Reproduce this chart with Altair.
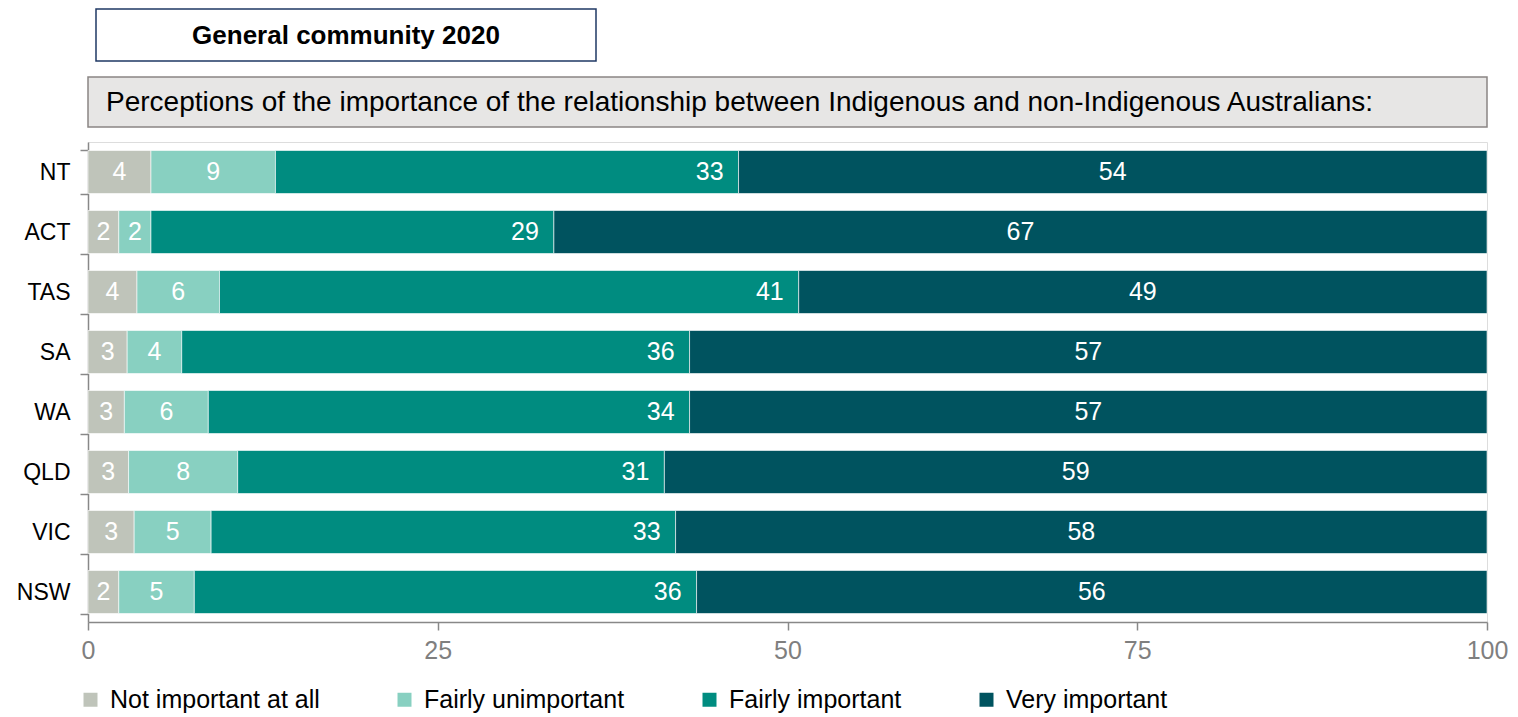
import altair as alt
import pandas as pd

states = ["NT", "ACT", "TAS", "SA", "WA", "QLD", "VIC", "NSW"]
categories = ["Not important at all", "Fairly unimportant", "Fairly important", "Very important"]
colors = ["#BFC4BA", "#88D0C1", "#008C80", "#00535F"]

not_important = [4.5, 2.2, 3.5, 2.8, 2.6, 2.9, 3.3, 2.2]
fairly_unimportant = [8.9, 2.3, 5.9, 3.9, 6.0, 7.8, 5.5, 5.4]
fairly_important = [33.1, 28.8, 41.4, 36.3, 34.4, 30.5, 33.2, 35.9]
very_important = [53.5, 66.7, 49.2, 57.0, 57.0, 58.8, 58.0, 56.5]

lbl_not = [4, 2, 4, 3, 3, 3, 3, 2]
lbl_funimp = [9, 2, 6, 4, 6, 8, 5, 5]
lbl_fimp = [33, 29, 41, 36, 34, 31, 33, 36]
lbl_very = [54, 67, 49, 57, 57, 59, 58, 56]

x_ticks = [0, 25, 50, 75, 100]

title_text = "General community 2020"
header_text = "Perceptions of the importance of the relationship between Indigenous and non-Indigenous Australians:"

series = [not_important, fairly_unimportant, fairly_important, very_important]
labels = [lbl_not, lbl_funimp, lbl_fimp, lbl_very]
rows = []
for i, s in enumerate(states):
    start = 0.0
    for k, cat in enumerate(categories):
        v = series[k][i]
        rows.append({"state": s, "cat": cat, "rank": k, "start": start,
                     "end": start + v, "mid": start + v / 2, "label": str(labels[k][i])})
        start += v
df = pd.DataFrame(rows)

W, H = 1399, 480
FONT = "Liberation Sans"

base = alt.Chart(df)
yenc = alt.Y("state:N", sort=states, title=None,
             scale=alt.Scale(paddingInner=0.283, paddingOuter=0.1415),
             axis=alt.Axis(labelFontSize=23, labelColor="#000000", labelPadding=10,
                           domainColor="#888888", domainWidth=1.5, tickColor="#888888",
                           tickWidth=1.5, tickSize=8, tickBand="extent", labelFont=FONT))

bars = base.mark_bar(stroke="#FFFFFF", strokeWidth=0.6).encode(
    x=alt.X("start:Q", scale=alt.Scale(domain=[0, 100], nice=False), title=None,
            axis=alt.Axis(values=x_ticks, labelFontSize=25, labelColor="#7F7F7F",
                          labelPadding=8, domainColor="#888888", domainWidth=1.5,
                          tickColor="#888888", tickWidth=1.5, tickSize=8, grid=False,
                          labelFlush=False, labelFont=FONT)),
    x2="end:Q",
    y=yenc,
    color=alt.Color("cat:N", scale=alt.Scale(domain=categories, range=colors),
                    legend=alt.Legend(title=None, orient="none", legendX=-10, legendY=545,
                                      direction="horizontal", symbolType="square",
                                      symbolSize=196, symbolStrokeWidth=0,
                                      labelFontSize=25, labelColor="#000000", labelFont=FONT,
                                      columnPadding=72, labelOffset=7, labelLimit=400)),
    order=alt.Order("rank:Q"),
)

text_center = base.transform_filter(alt.datum.cat != "Fairly important").mark_text(
    color="white", fontSize=25, font=FONT, baseline="middle", align="center").encode(
    x="mid:Q", y=alt.Y("state:N", sort=states), text="label:N")

text_right = base.transform_filter(alt.datum.cat == "Fairly important").mark_text(
    color="white", fontSize=25, font=FONT, baseline="middle", align="right", dx=-15).encode(
    x="end:Q", y=alt.Y("state:N", sort=states), text="label:N")

title_df = pd.DataFrame({"t": [title_text]})
header_df = pd.DataFrame({"t": [header_text]})

title_box = alt.Chart(title_df).mark_rect(fill="white", stroke="#1F3864", strokeWidth=1.5).encode(
    x=alt.value(8), x2=alt.value(508), y=alt.value(-133), y2=alt.value(-81))
title_txt = alt.Chart(title_df).mark_text(fontSize=26, fontWeight="bold", font=FONT,
                                          align="center", baseline="middle", color="black").encode(
    x=alt.value(258), y=alt.value(-106), text="t:N")

header_box = alt.Chart(header_df).mark_rect(fill="#E7E6E5", stroke="#8A8584", strokeWidth=1.5).encode(
    x=alt.value(0), x2=alt.value(W), y=alt.value(-65), y2=alt.value(-15))
header_txt = alt.Chart(header_df).mark_text(fontSize=28, font=FONT, align="left",
                                            baseline="middle", color="black").encode(
    x=alt.value(18), y=alt.value(-39), text="t:N")

chart = alt.layer(bars, text_center, text_right, title_box, title_txt, header_box, header_txt).properties(
    width=W, height=H,
    autosize=alt.AutoSizeParams(type="none"),
    padding={"left": 80, "top": 134, "right": 22, "bottom": 95},
).configure_view(stroke=None).configure(font=FONT)

chart.save("out.html", embed_options={"renderer": "svg", "actions": False})
